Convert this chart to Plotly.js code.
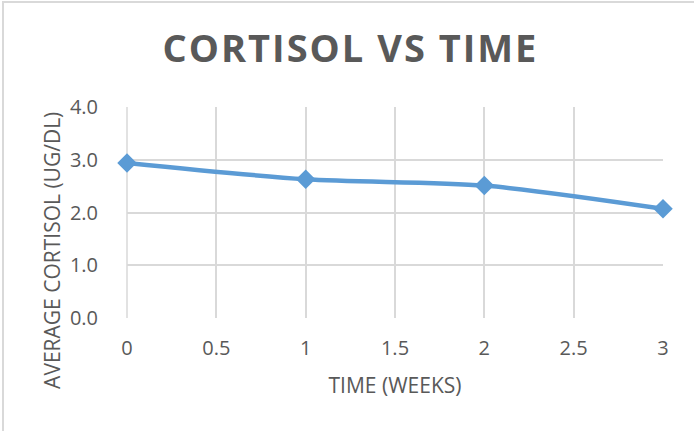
<!DOCTYPE html>
<html>
<head>
<meta charset="utf-8">
<script src="https://cdn.plot.ly/plotly-3.0.1.min.js"></script>
<style>
html,body{margin:0;padding:0;background:#fff;}
#wrap{position:relative;width:694px;height:431px;overflow:hidden;}
#chart{width:694px;height:431px;}
#frame{position:absolute;left:2px;top:1px;right:-5px;bottom:-5px;border-top:2px solid #d9d9d9;border-left:2px solid #d9d9d9;pointer-events:none;}
.gtitle{letter-spacing:2px;}
</style>
</head>
<body>
<div id="wrap"><div id="chart"></div><div id="frame"></div></div>
<script>
const weeks = [0, 1, 2, 3];
const cortisol = [2.94, 2.63, 2.51, 2.07];
const xTicks = [0, 0.5, 1, 1.5, 2, 2.5, 3];
const xTickLabels = ['0', '0.5', '1', '1.5', '2', '2.5', '3'];
const yTicks = [0, 1, 2, 3, 4];
const yTickLabels = ['0.0', '1.0', '2.0', '3.0', '4.0'];

const grey = '#595959';
const font = 'Open Sans, Liberation Sans, sans-serif';

Plotly.newPlot('chart', [{
  x: weeks,
  y: cortisol,
  type: 'scatter',
  mode: 'lines+markers',
  cliponaxis: false,
  line: {color: '#5b9bd5', width: 4.5, shape: 'spline', smoothing: 0.8},
  marker: {symbol: 'diamond', size: 15, color: '#5b9bd5'},
  hoverinfo: 'x+y'
}], {
  width: 694, height: 431,
  margin: {l: 127, r: 31, t: 107, b: 113},
  paper_bgcolor: '#fff', plot_bgcolor: '#fff',
  showlegend: false,
  font: {family: font, color: grey, size: 20},
  title: {
    text: '<b>CORTISOL VS TIME</b>',
    font: {family: font, size: 38, color: grey},
    x: 0.505, xanchor: 'center', xref: 'container',
    y: 1 - 49/431, yanchor: 'middle', yref: 'container'
  },
  xaxis: {
    range: [0, 3],
    tickvals: xTicks, ticktext: xTickLabels,
    showgrid: true, gridcolor: '#d9d9d9', gridwidth: 1.5,
    zeroline: false, showline: false, ticks: '',
    tickfont: {family: font, size: 20, color: grey},
    ticklabelstandoff: 16,
    title: {text: 'TIME (WEEKS)', font: {family: font, size: 21, color: grey}, standoff: 18},
    fixedrange: true
  },
  yaxis: {
    range: [0, 4],
    tickvals: yTicks, ticktext: yTickLabels,
    showgrid: true, gridcolor: '#d9d9d9', gridwidth: 1.5,
    zeroline: false, showline: false, ticks: '',
    tickfont: {family: font, size: 20, color: grey},
    ticklabelstandoff: 28,
    fixedrange: true
  },
  shapes: [{
    type: 'line', xref: 'paper', yref: 'paper', x0: 0, x1: 0, y0: 0, y1: 1,
    line: {color: '#d9d9d9', width: 1.5}, layer: 'below'
  }],
  annotations: [{
    text: 'AVERAGE CORTISOL (UG/DL)',
    xref: 'paper', yref: 'paper',
    x: (52 - 127) / 536, y: (318.3 - 251) / 211.6,
    xanchor: 'center', yanchor: 'middle',
    textangle: -90, showarrow: false,
    font: {family: font, size: 21, color: grey}
  }]
}, {displayModeBar: false});
</script>
</body>
</html>
